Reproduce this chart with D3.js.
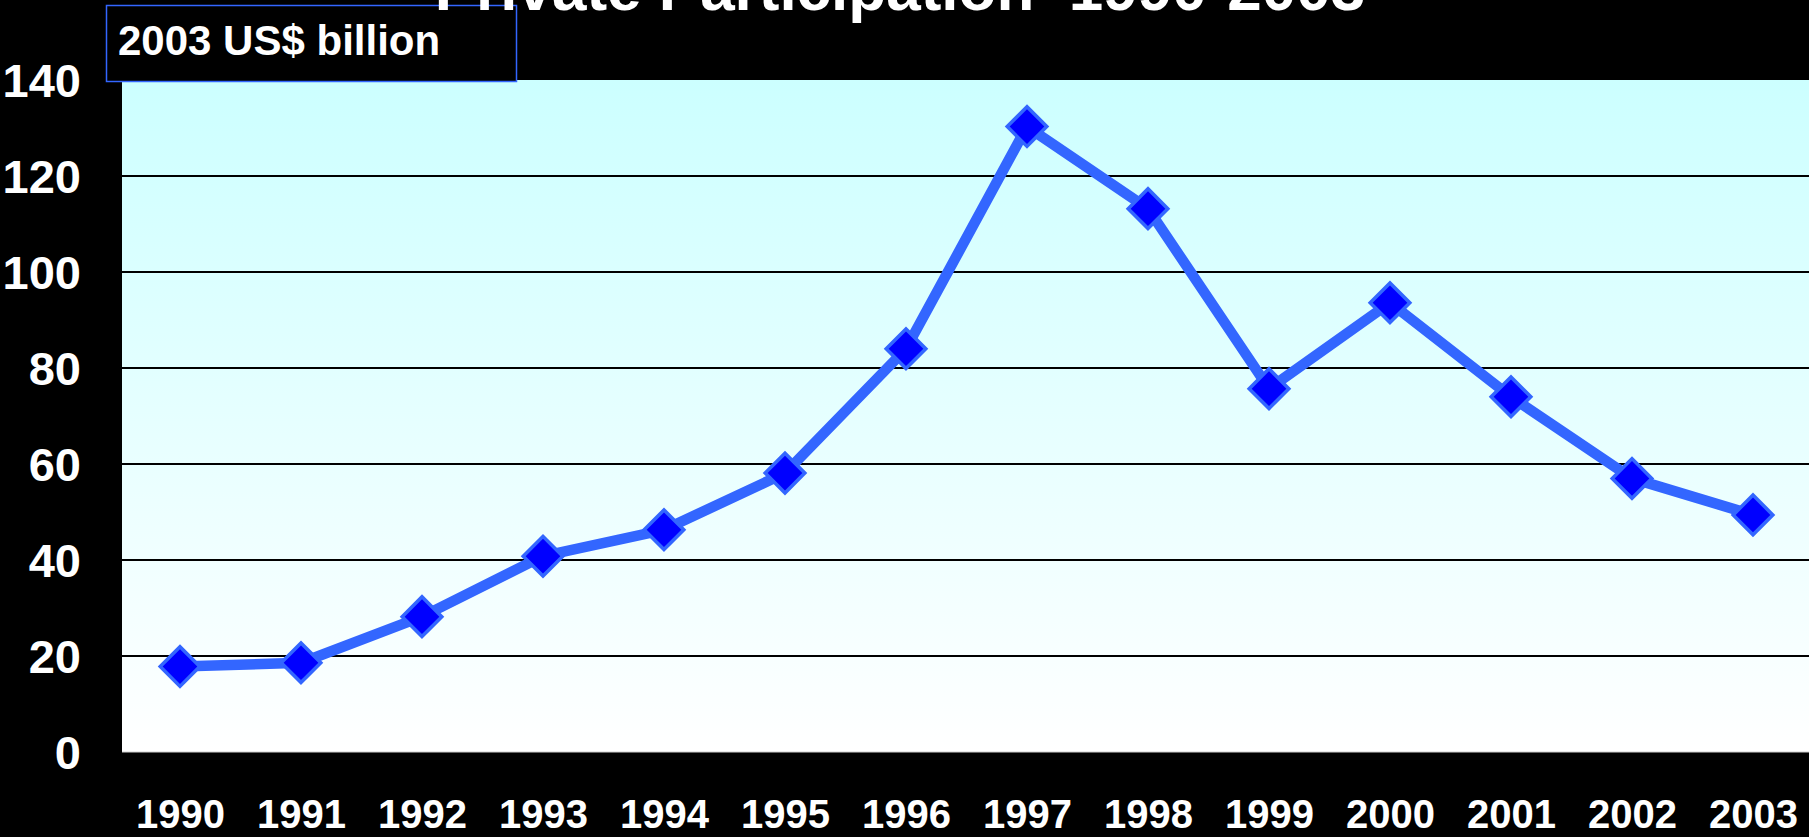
<!DOCTYPE html>
<html>
<head>
<meta charset="utf-8">
<script src="https://cdn.jsdelivr.net/npm/d3@7"></script>
<style>
  html, body { margin: 0; padding: 0; background: #000; overflow: hidden; }
  svg { display: block; }
  text { font-family: "Liberation Sans", Arial, sans-serif; font-weight: bold; fill: #fff; }
</style>
</head>
<body>
<svg id="chart" width="1809" height="837"></svg>
<script>
const years = ["1990","1991","1992","1993","1994","1995","1996","1997","1998","1999","2000","2001","2002","2003"];
const values = [17.8, 18.6, 28.2, 40.8, 46.3, 58.1, 84.0, 130.3, 113.2, 75.7, 93.6, 74.0, 57.0, 49.4];
const yTicks = [0, 20, 40, 60, 80, 100, 120, 140];
const titleText = "Private Participation  1990-2003";
const unitLabel = "2003 US$ billion";

const W = 1809, H = 837;
const plot = { left: 122, right: 1809, top: 80, bottom: 752 };

const svg = d3.select("#chart");

const defs = svg.append("defs");
const grad = defs.append("linearGradient")
  .attr("id", "bg").attr("x1", 0).attr("y1", 0).attr("x2", 0).attr("y2", 1);
grad.append("stop").attr("offset", "0%").attr("stop-color", "#ccffff");
grad.append("stop").attr("offset", "100%").attr("stop-color", "#ffffff");

const x = d3.scalePoint().domain(years).range([180, 1753]);
const y = d3.scaleLinear().domain([0, 140]).range([plot.bottom, plot.top]);

// plot background
svg.append("rect")
  .attr("x", plot.left).attr("y", plot.top)
  .attr("width", plot.right - plot.left).attr("height", plot.bottom - plot.top)
  .attr("fill", "url(#bg)");

// bottom edge
svg.append("line")
  .attr("x1", plot.left).attr("x2", plot.right)
  .attr("y1", plot.bottom).attr("y2", plot.bottom)
  .attr("stroke", "#d0d0d0").attr("stroke-width", 1);

// gridlines
svg.append("g").selectAll("line")
  .data(yTicks.filter(t => t > 0 && t < 140))
  .join("line")
  .attr("x1", plot.left).attr("x2", plot.right)
  .attr("y1", d => Math.round(y(d))).attr("y2", d => Math.round(y(d)))
  .attr("stroke", "#000").attr("stroke-width", 2);

// y axis labels
const yAxis = d3.axisLeft(y).tickValues(yTicks).tickSize(0).tickPadding(0);
const gy = svg.append("g").attr("transform", "translate(81,0)").call(yAxis);
gy.select(".domain").remove();
gy.selectAll("text")
  .attr("x", 0).attr("dy", "0.36em")
  .style("font-size", "47px")
  .style("font-family", "'Liberation Sans', Arial, sans-serif")
  .style("font-weight", "bold")
  .attr("fill", "#fff");

// x axis labels
const xAxis = d3.axisBottom(x).tickSize(0).tickPadding(0);
const gx = svg.append("g").attr("transform", "translate(0,828)").call(xAxis);
gx.select(".domain").remove();
gx.selectAll("text")
  .attr("y", 0).attr("dy", 0)
  .style("font-size", "40px")
  .style("font-family", "'Liberation Sans', Arial, sans-serif")
  .style("font-weight", "bold")
  .attr("fill", "#fff");

// line
const line = d3.line().x((d, i) => x(years[i])).y(d => y(d));
svg.append("path")
  .datum(values)
  .attr("d", line)
  .attr("fill", "none")
  .attr("stroke", "#3366ff")
  .attr("stroke-width", 10.5)
  .attr("stroke-linejoin", "round");

// markers
const sym = d3.symbol().type(d3.symbolSquare).size(28 * 28);
svg.append("g").selectAll("path")
  .data(values)
  .join("path")
  .attr("d", sym)
  .attr("transform", (d, i) => `translate(${x(years[i])},${y(d)}) rotate(45)`)
  .attr("fill", "#0000ff")
  .attr("stroke", "#3366ff")
  .attr("stroke-width", 3.5)
  .attr("stroke-linejoin", "miter");

// unit label box
svg.append("rect")
  .attr("x", 106.5).attr("y", 5.5).attr("width", 410).attr("height", 76)
  .attr("fill", "#000").attr("stroke", "#3366ff").attr("stroke-width", 1.5);
svg.append("text")
  .attr("x", 118).attr("y", 55)
  .style("font-size", "42px")
  .text(unitLabel);

// title (cut off at top, as in the reference)
svg.append("text")
  .attr("x", 900).attr("y", 10)
  .attr("text-anchor", "middle")
  .style("font-size", "62px")
  .style("white-space", "pre")
  .attr("xml:space", "preserve")
  .text(titleText);
</script>
</body>
</html>
